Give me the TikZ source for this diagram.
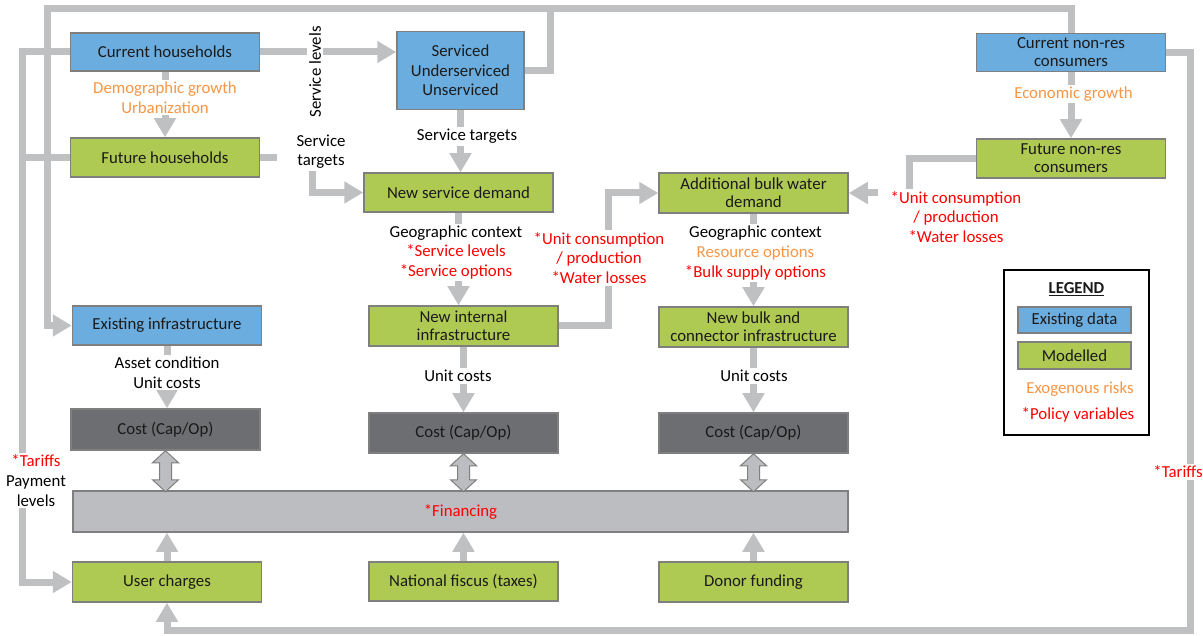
\documentclass[tikz,border=0pt]{standalone}
\usepackage{fontspec}
\setmainfont{Carlito}
\usetikzlibrary{arrows.meta}
\definecolor{databl}{HTML}{6CADDF}
\definecolor{modgr}{HTML}{AFCA53}
\definecolor{costgr}{HTML}{6D6E71}
\definecolor{fingr}{HTML}{BCBDC0}
\definecolor{linegr}{HTML}{BFC0C2}
\definecolor{bordergr}{HTML}{7F7F7F}
\definecolor{exo}{HTML}{F79646}
\definecolor{pol}{HTML}{FF0000}
\definecolor{txt}{HTML}{1A1A1A}
\newcommand\fs{\fontsize{16.8}{19.6}\selectfont}
\newcommand\dblarrowdraw[2]{%
  \draw[dblarr] (#1) -- ++(13,12) -- ++(-7,0) -- ++(0,#2) -- ++(7,0) -- ++(-13,12)
     -- ++(-13,-12) -- ++(7,0) -- ++(0,-#2) -- ++(-7,0) -- cycle;}
\begin{document}
\begin{tikzpicture}[x=1pt,y=-1pt,
  base/.style={font=\fs, align=center, text=txt},
  box/.style={base, draw=bordergr, line width=1.5pt, inner sep=1pt},
  databox/.style={box, fill=databl},
  modbox/.style={box, fill=modgr},
  costbox/.style={box, fill=costgr, text=txt!95!black},
  finbox/.style={box, fill=fingr},
  conn/.style={draw=linegr, line width=7pt},
  arr/.style={conn, -{Triangle[width=21pt,length=19pt]}},
  dblarr/.style={draw=bordergr, fill=fingr, line width=1pt, line join=miter},
  lbl/.style={base, fill=white, inner xsep=3pt, inner ysep=2pt, text=black},
  wbox/.style={minimum width=189pt},
]
\useasboundingbox[fill=white] (0,0) rectangle (1203,636);

% ---- boxes ----
\node[databox, wbox, minimum height=38pt] (ch) at (165,52) {Current households};
\node[modbox, wbox, minimum height=39pt] (fh) at (165,157.5) {Future households};
\node[databox, minimum width=127pt, minimum height=78pt] (srv) at (460.5,70.5) {Serviced\\Underserviced\\Unserviced};
\node[modbox, wbox, minimum height=39pt] (nsd) at (458.5,192.5) {New service demand};
\node[modbox, wbox, minimum height=40pt] (abwd) at (753.5,193) {Additional bulk water\\[-1.5pt]demand};
\node[databox, wbox, minimum height=38pt] (cnr) at (1071,52.5) {Current non-res\\[-1.5pt]consumers};
\node[modbox, wbox, minimum height=39pt] (fnr) at (1071,158.5) {Future non-res\\[-1.5pt]consumers};
\node[databox, wbox, minimum height=39pt] (ei) at (167,325.5) {Existing infrastructure};
\node[modbox, wbox, minimum height=40pt] (nii) at (463.5,326) {New internal\\[-1.5pt]infrastructure};
\node[modbox, wbox, minimum height=40pt] (nbci) at (753.5,327) {New bulk and\\[-1.5pt]connector infrastructure};
\node[costbox, wbox, minimum height=41pt] (c1) at (165.5,429.5) {Cost (Cap/Op)};
\node[costbox, wbox, minimum height=40pt] (c2) at (463.5,433) {Cost (Cap/Op)};
\node[costbox, wbox, minimum height=40pt] (c3) at (753.5,433) {Cost (Cap/Op)};
\node[finbox, minimum width=775pt, minimum height=41pt, text=pol] (fin) at (460.5,511.5) {*Financing};
\node[modbox, wbox, minimum height=40pt] (uc) at (167,582) {User charges};
\node[modbox, wbox, minimum height=39pt] (nf) at (463.5,581.5) {National fiscus (taxes)};
\node[modbox, wbox, minimum height=40pt] (df) at (753.5,582) {Donor funding};

% ---- legend ----
\node[draw=black, line width=1.5pt, minimum width=145pt, minimum height=165pt] (lgd) at (1076.5,352.5) {};
\node[base, font=\fs\bfseries] (lgdt) at (1076.5,289) {\underline{LEGEND}};
\node[databox, minimum width=113pt, minimum height=26pt] (lgdd) at (1074.5,320) {Existing data};
\node[modbox, minimum width=113pt, minimum height=27pt] (lgdm) at (1074.5,355.5) {Modelled};
\node[base, text=exo] (lgde) at (1080,389) {Exogenous risks};
\node[base, text=pol] (lgdp) at (1078,414.5) {*Policy variables};

% ---- connectors ----
\coordinate (lx) at (22,0);
\coordinate (tl) at (47.5,8.5);
\coordinate (tr) at (550,8.5);
\coordinate (rb) at (1190,630);

\draw[arr] (srv.east) -- ++(26,0) |- (tl) |- (ei.west);
\draw[conn] (cnr.north) |- (tr);
\draw[arr] (ch.west) -- (ch.west -| lx) |- (uc.west);
\draw[conn] (fh.west) -- (fh.west -| lx);
\draw[arr] (cnr.east) -| (rb) -| (uc.south);

\draw[arr] (ch.south) -- (fh.north);
\draw[arr] (ch.east) -- (ch.east -| srv.west);
\draw[arr] (srv.south) -- (srv.south |- nsd.north);
\draw[arr] (fh.east) -- ++(52,0) |- (nsd.west);
\draw[arr] (nsd.south) -- (nsd.south |- nii.north);
\draw[arr] (nii.east) -- ++(50,0) |- (abwd.west);
\draw[arr] (cnr.south) -- (fnr.north);
\draw[arr] (fnr.west) -- ++(-66,0) |- (abwd.east);
\draw[arr] (abwd.south) -- (nbci.north);
\draw[arr] (ei.south) -- (ei.south |- c1.north);
\draw[arr] (nii.south) -- (c2.north);
\draw[arr] (nbci.south) -- (c3.north);
\draw[arr] (uc.north) -- (uc.north |- fin.south);
\draw[arr] (nf.north) -- (nf.north |- fin.south);
\draw[arr] (df.north) -- (df.north |- fin.south);

\dblarrowdraw{c1.south}{17}
\dblarrowdraw{c2.south}{14}
\dblarrowdraw{c3.south}{14}

% ---- labels ----
\node[lbl, text=exo] (l1) at (165,97.5) {Demographic growth\\Urbanization};
\node[lbl, rotate=90] (l2) at (315,72) {Service levels};
\node[lbl, minimum width=88pt] (l3) at (321,151.5) {Service\\targets};
\node[lbl] (l4) at (467,136.5) {Service targets};
\node[lbl] (l5) at (456,252.5) {Geographic context\\\textcolor{pol}{*Service levels}\\\textcolor{pol}{*Service options}};
\node[lbl, text=pol] (l6) at (599,258) {*Unit consumption\\/ production\\*Water losses};
\node[lbl] (l7) at (755.5,253) {Geographic context\\\textcolor{exo}{Resource options}\\\textcolor{pol}{*Bulk supply options}};
\node[lbl, text=exo] (l8) at (1073.5,94) {Economic growth};
\node[lbl, text=pol, minimum width=156pt] (l9) at (956,217) {*Unit consumption\\/ production\\*Water losses};
\node[lbl] (l10) at (167,372.5) {Asset condition\\Unit costs};
\node[lbl] (l11) at (458,376) {Unit costs};
\node[lbl] (l12) at (754,376) {Unit costs};
\node[lbl] (l13) at (36,480.5) {\textcolor{pol}{*Tariffs}\\Payment\\levels};
\node[lbl, text=pol] (l14) at (1178,472) {*Tariffs};
\end{tikzpicture}
\end{document}
